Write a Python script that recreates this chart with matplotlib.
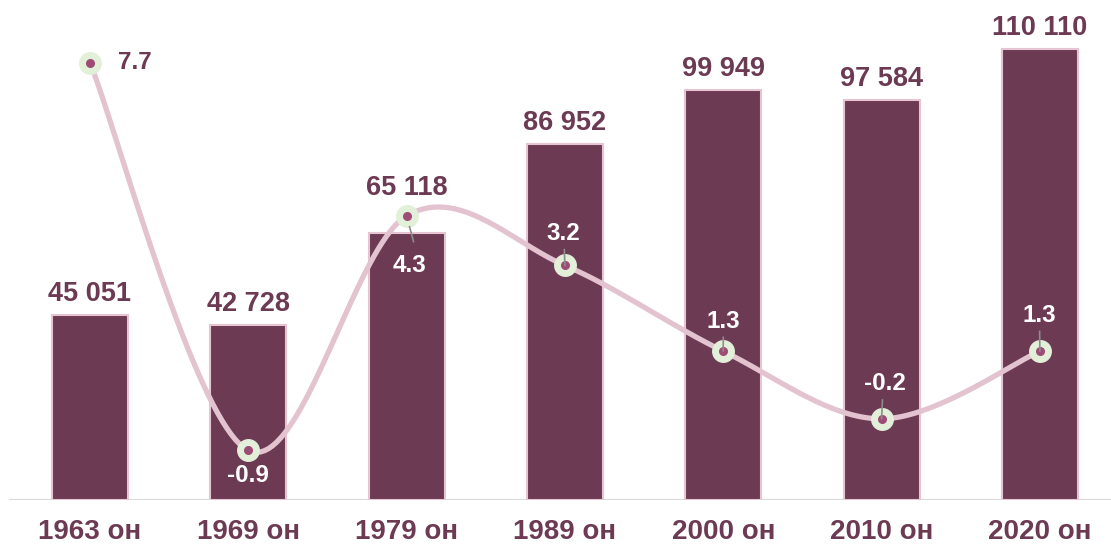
import numpy as np
import matplotlib.pyplot as plt

plt.rcParams['font.family'] = ['Liberation Sans', 'DejaVu Sans']

years = ['1963 он', '1969 он', '1979 он', '1989 он', '2000 он', '2010 он', '2020 он']
population = [45051, 42728, 65118, 86952, 99949, 97584, 110110]
growth = [7.7, -0.9, 4.3, 3.2, 1.3, -0.2, 1.3]

bar_color = '#6D3A54'
line_color = '#E2C3CF'

def smooth_curve(xs, ys, sx, sy, n=40):
    # bezier smoothing in screen-ish scale, like a spreadsheet smooth line
    p = np.column_stack([np.array(xs) * sx, np.array(ys) * sy])
    pts = np.vstack([p[0], p, p[-1]])
    out = []
    t = np.linspace(0, 1, n)[:, None]
    for i in range(1, len(pts) - 2):
        p0, p3 = pts[i], pts[i + 1]
        c1 = p0 + (pts[i + 1] - pts[i - 1]) / 6
        c2 = p3 - (pts[i + 2] - pts[i]) / 6
        seg = (1 - t)**3 * p0 + 3 * (1 - t)**2 * t * c1 + 3 * (1 - t) * t**2 * c2 + t**3 * p3
        out.append(seg)
    out = np.vstack(out)
    return out[:, 0] / sx, out[:, 1] / sy

fig = plt.figure(figsize=(11.11, 5.5), dpi=100)
ax = fig.add_axes([0, 50 / 550, 1, 500 / 550])
x = np.arange(len(years))
px = 72 / 100

ax.bar(x, population, width=0.48, color=bar_color, edgecolor='#E6C4D2', linewidth=1.5, zorder=2)
ax.set_xlim(-0.568, 6.449)
ax.set_ylim(0, 122000)
for s in ax.spines.values():
    s.set_visible(False)
ax.axhline(0, xmin=10 / 1111, xmax=1, color='#D9D9D9', linewidth=1.5, zorder=1)
ax.set_yticks([])
ax.set_xticks(x)
ax.set_xticklabels(years, fontsize=20, fontweight='bold', color=bar_color)
ax.tick_params(axis='x', length=0, pad=14)

bar_lift = [8, 8, 32, 8, 8, 8, 8]
for xi, v, lift in zip(x, population, bar_lift):
    ax.annotate(f'{v:,}'.replace(',', ' '), (xi, v), xytext=(0, lift * px), textcoords='offset points',
                ha='center', va='bottom', fontsize=19.5, fontweight='bold', color=bar_color)

ax2 = ax.twinx()
ax2.set_ylim(-2, 9.086)
ax2.set_axis_off()
cx, cy = smooth_curve(x, growth, 158.3, 45.1)
ax2.plot(cx, cy, color=line_color, linewidth=3.8, zorder=3, solid_capstyle='round')
ax2.plot(x, growth, 'o', markersize=15.5, markerfacecolor='#E2EFD9', markeredgecolor='#E2EFD9', zorder=4)
ax2.plot(x, growth, 'o', markersize=5.5, markerfacecolor='#9E4C76', markeredgecolor='#9E4C76', zorder=5)

# label offsets in pixels (dx, dy), dy up positive
offsets = [(28, 0), (0, -25), (3, -50), (-2, 32), (0, 30), (3, 35), (-1, 36)]
for i, (xi, v) in enumerate(zip(x, growth)):
    dx, dy = offsets[i]
    if i == 0:
        ax2.annotate(f'{v}', (xi, v), xytext=(dx * px, dy * px), textcoords='offset points',
                     ha='left', va='center', fontsize=17.5, fontweight='bold', color=bar_color, zorder=6)
        continue
    if i == 2:
        ax2.annotate('', (xi, v), xytext=(7 * px, (dy + 24) * px), textcoords='offset points',
                     zorder=6,
                     arrowprops=dict(arrowstyle='-', color='#8C8C8C', lw=1.2, shrinkA=0, shrinkB=-8))
    elif i > 2:
        ax2.annotate('', (xi, v), xytext=(dx * px * 0.3, (dy - 16) * px), textcoords='offset points',
                     zorder=6,
                     arrowprops=dict(arrowstyle='-', color='#8C8C8C', lw=1.2, shrinkA=0, shrinkB=0))
    ax2.annotate(f'{v}', (xi, v), xytext=(dx * px, dy * px), textcoords='offset points',
                 ha='center', va='center', fontsize=17.5, fontweight='bold', color='white', zorder=7)

fig.savefig('out.png', dpi=100)
